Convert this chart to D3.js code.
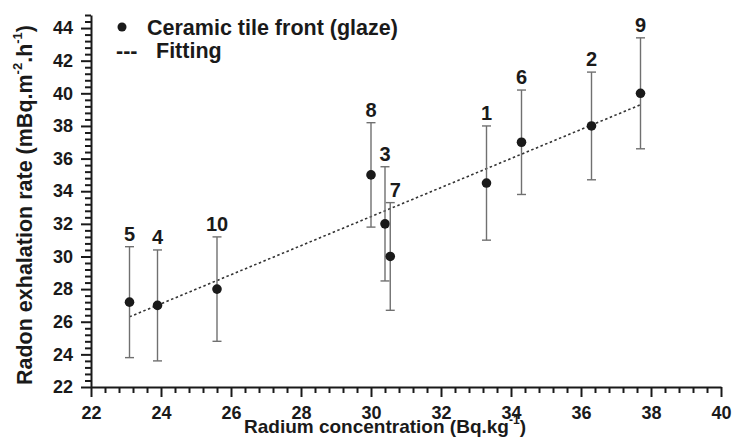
<!DOCTYPE html>
<meta charset="utf-8">
<style>

body {
  margin: 0;
  background: #fff;
  font-family: Arial, "Liberation Sans", sans-serif;
}

.axis path,
.axis line {
  stroke: #1a1a1a;
  stroke-width: 2px;
}

.axis text {
  font: bold 18px Arial, "Liberation Sans", sans-serif;
  fill: #1a1a1a;
}

.errbar {
  stroke: #707070;
  stroke-width: 1.4px;
}

.fit {
  fill: none;
  stroke: #333;
  stroke-width: 1.6px;
  stroke-dasharray: 2.5,2.5;
}

</style>
<svg width="732" height="437"></svg>
<script src="https://cdn.jsdelivr.net/npm/d3@7/dist/d3.min.js"></script>
<script>

// sample number, radium (Bq/kg), exhalation rate (mBq/m2/h), error (+/-)
var sampleIds  = ["5", "4", "10", "8", "3", "7", "1", "6", "2", "9"];
var radium     = [23.1, 23.9, 25.6, 30.0, 30.4, 30.55, 33.3, 34.3, 36.3, 37.7];
var exhalation = [27.2, 27.0, 28.0, 35.0, 32.0, 30.0, 34.5, 37.0, 38.0, 40.0];
var errorBar   = [3.4, 3.4, 3.2, 3.2, 3.5, 3.3, 3.5, 3.2, 3.3, 3.4];

// end points of the linear fit
var fitX = [23.1, 37.7];
var fitY = [26.3, 39.3];

var xMajor = [22, 24, 26, 28, 30, 32, 34, 36, 38, 40];
var yMajor = [22, 24, 26, 28, 30, 32, 34, 36, 38, 40, 42, 44];

var legendLabels = ["Ceramic tile front (glaze)", "Fitting"];

var svg = d3.select("svg"),
    margin = {top: 15, right: 11, bottom: 50, left: 91},
    width = +svg.attr("width") - margin.left - margin.right,
    height = +svg.attr("height") - margin.top - margin.bottom,
    g = svg.append("g").attr("transform", "translate(" + margin.left + "," + margin.top + ")");

var x = d3.scaleLinear().domain([22, 40]).range([0, width]),
    y = d3.scaleLinear().domain([22, 44.8]).range([height, 0]);

var data = sampleIds.map(function(id, i) {
  return {id: id, x: radium[i], y: exhalation[i], e: errorBar[i]};
});

// minor ticks every 0.4
var xMinor = d3.range(0, 46).filter(function(i) { return i % 5; }).map(function(i) { return 22 + i * 0.4; });
var yMinor = d3.range(0, 58).filter(function(i) { return i % 5; }).map(function(i) { return 22 + i * 0.4; });

g.append("g")
    .attr("class", "axis")
    .attr("transform", "translate(0," + height + ")")
    .call(d3.axisBottom(x).tickValues(xMinor).tickSize(6).tickFormat(""))
    .select(".domain").remove();

g.append("g")
    .attr("class", "axis")
    .attr("transform", "translate(0," + height + ")")
    .call(d3.axisBottom(x).tickValues(xMajor).tickSize(10).tickSizeOuter(0).tickPadding(9).tickFormat(d3.format("d")));

g.append("g")
    .attr("class", "axis")
    .call(d3.axisLeft(y).tickValues(yMinor).tickSize(6).tickFormat(""))
    .select(".domain").remove();

g.append("g")
    .attr("class", "axis")
    .call(d3.axisLeft(y).tickValues(yMajor).tickSize(10).tickSizeOuter(0).tickPadding(8).tickFormat(d3.format("d")));

// fitting line
g.append("path")
    .datum(fitX.map(function(v, i) { return [v, fitY[i]]; }))
    .attr("class", "fit")
    .attr("d", d3.line().x(function(d) { return x(d[0]); }).y(function(d) { return y(d[1]); }));

var pt = g.selectAll(".sample")
  .data(data)
  .enter().append("g")
    .attr("class", "sample");

pt.append("line")
    .attr("class", "errbar")
    .attr("x1", function(d) { return x(d.x); })
    .attr("x2", function(d) { return x(d.x); })
    .attr("y1", function(d) { return y(d.y + d.e); })
    .attr("y2", function(d) { return y(d.y - d.e); });

pt.selectAll(".cap")
  .data(function(d) { return [{x: d.x, v: d.y + d.e}, {x: d.x, v: d.y - d.e}]; })
  .enter().append("line")
    .attr("class", "errbar")
    .attr("x1", function(d) { return x(d.x) - 4.5; })
    .attr("x2", function(d) { return x(d.x) + 4.5; })
    .attr("y1", function(d) { return y(d.v); })
    .attr("y2", function(d) { return y(d.v); });

pt.append("circle")
    .attr("cx", function(d) { return x(d.x); })
    .attr("cy", function(d) { return y(d.y); })
    .attr("r", 4.8)
    .attr("fill", "#1a1a1a");

pt.append("text")
    .attr("x", function(d) { return x(d.x) + (d.id == "7" ? 5 : 0); })
    .attr("y", function(d) { return y(d.y + d.e) - 6; })
    .attr("text-anchor", "middle")
    .style("font", "bold 20px Arial, 'Liberation Sans', sans-serif")
    .style("fill", "#1a1a1a")
    .text(function(d) { return d.id; });

// legend
svg.append("circle")
    .attr("cx", 122)
    .attr("cy", 27)
    .attr("r", 4.5)
    .attr("fill", "#1a1a1a");

svg.append("text")
    .attr("x", 147)
    .attr("y", 35)
    .style("font", "bold 21.5px Arial, 'Liberation Sans', sans-serif")
    .style("fill", "#1a1a1a")
    .text(legendLabels[0]);

svg.append("text")
    .attr("x", 116)
    .attr("y", 58)
    .style("font", "bold 21.5px Arial, 'Liberation Sans', sans-serif")
    .style("fill", "#1a1a1a")
    .text("---");

svg.append("text")
    .attr("x", 156)
    .attr("y", 58)
    .style("font", "bold 21.5px Arial, 'Liberation Sans', sans-serif")
    .style("fill", "#1a1a1a")
    .text(legendLabels[1]);

// axis titles
var xt = svg.append("text")
    .attr("x", 244)
    .attr("y", 433)
    .style("font", "bold 19px Arial, 'Liberation Sans', sans-serif")
    .style("fill", "#1a1a1a");
xt.append("tspan").text("Radium concentration (Bq.kg");
xt.append("tspan").attr("dy", -9).style("font-size", "12px").text("-1");
xt.append("tspan").attr("dy", 9).text(")");

var yt = svg.append("text")
    .attr("transform", "translate(32,385) rotate(-90)")
    .style("font", "bold 21.5px Arial, 'Liberation Sans', sans-serif")
    .style("fill", "#1a1a1a");
yt.append("tspan").text("Radon exhalation rate (mBq.m");
yt.append("tspan").attr("dy", -10).style("font-size", "13px").text("-2");
yt.append("tspan").attr("dy", 10).text(".h");
yt.append("tspan").attr("dy", -10).style("font-size", "13px").text("-1");
yt.append("tspan").attr("dy", 10).text(")");

</script>
